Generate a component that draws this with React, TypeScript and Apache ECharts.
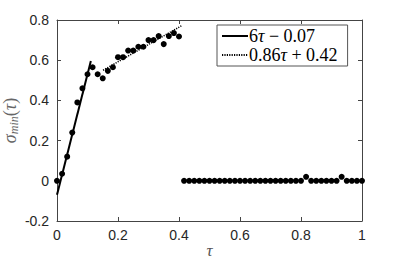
import React, { useEffect, useRef } from "react";
import * as echarts from "echarts";

const tau = [0, 0.0167, 0.0333, 0.05, 0.0667, 0.0833, 0.1, 0.1167, 0.1333, 0.15, 0.1667, 0.1833, 0.2, 0.2167, 0.2333, 0.25, 0.2667, 0.2833, 0.3, 0.3167, 0.3333, 0.35, 0.3667, 0.3833, 0.4, 0.4167, 0.4333, 0.45, 0.4667, 0.4833, 0.5, 0.5167, 0.5333, 0.55, 0.5667, 0.5833, 0.6, 0.6167, 0.6333, 0.65, 0.6667, 0.6833, 0.7, 0.7167, 0.7333, 0.75, 0.7667, 0.7833, 0.8, 0.8167, 0.8333, 0.85, 0.8667, 0.8833, 0.9, 0.9167, 0.9333, 0.95, 0.9667, 0.9833, 1];
const sigmaMin = [0, 0.035, 0.12, 0.24, 0.39, 0.46, 0.53, 0.565, 0.53, 0.51, 0.547, 0.565, 0.615, 0.615, 0.648, 0.648, 0.667, 0.667, 0.7, 0.7, 0.72, 0.68, 0.72, 0.735, 0.718,
  0, 0, 0, 0, 0, 0, 0, 0, 0, 0, 0, 0, 0, 0, 0, 0, 0, 0, 0, 0, 0, 0, 0, 0,
  0.02, 0, 0, 0, 0, 0, 0, 0.02, 0, 0, 0, 0];
const fit1Tau = [0, 0.111];
const fit1Val = [-0.07, 0.596];
const fit2Tau = [0.151, 0.408];
const fit2Val = [0.55, 0.771];
const fit1Name = "6τ − 0.07";
const fit2Name = "0.86τ + 0.42";
const xTicks = [0, 0.2, 0.4, 0.6, 0.8, 1];
const yTicks = [-0.2, 0, 0.2, 0.4, 0.6, 0.8];

const axisColor = "#444";
const labelColor = "#262626";

export default function App() {
  const ref = useRef<HTMLDivElement>(null);
  useEffect(() => {
    const chart = echarts.init(ref.current!, null, { renderer: "svg" });
    const fmt = (v: number) => String(parseFloat(v.toFixed(1)));
    const baseX = {
      type: "value",
      min: xTicks[0],
      max: xTicks[xTicks.length - 1],
      interval: 0.2,
      splitLine: { show: false },
      axisLine: { show: true, onZero: false, lineStyle: { color: axisColor, width: 1 } },
      axisTick: { show: true, inside: true, length: 4, lineStyle: { color: axisColor } },
    };
    const baseY = {
      type: "value",
      min: yTicks[0],
      max: yTicks[yTicks.length - 1],
      interval: 0.2,
      splitLine: { show: false },
      axisLine: { show: true, onZero: false, lineStyle: { color: axisColor, width: 1 } },
      axisTick: { show: true, inside: true, length: 4, lineStyle: { color: axisColor } },
    };
    const serif = "Liberation Serif";
    chart.setOption({
      animation: false,
      backgroundColor: "#fff",
      grid: { left: 57, right: 37, top: 20, bottom: 45, containLabel: false, outerBoundsMode: "none" },
      xAxis: [
        {
          ...baseX,
          position: "bottom",
          name: "τ",
          nameLocation: "middle",
          nameGap: 21,
          nameMoveOverlap: false,
          nameTextStyle: { fontFamily: serif, fontStyle: "italic", fontSize: 17, color: "#555" },
          axisLabel: { formatter: fmt, fontFamily: "Liberation Sans", fontSize: 14, color: labelColor, margin: 7 },
        },
        { ...baseX, position: "top", axisLabel: { show: false } },
      ],
      yAxis: [
        {
          ...baseY,
          position: "left",
          name: "{s|σ}{sub|min}{p|(}{s|τ}{p|)}",
          nameLocation: "middle",
          nameGap: 37,
          nameMoveOverlap: false,
          nameTextStyle: {
            color: "#666",
            rich: {
              s: { fontFamily: serif, fontStyle: "italic", fontSize: 18, color: "#666" },
              p: { fontFamily: serif, fontSize: 18, color: "#666" },
              sub: { fontFamily: serif, fontStyle: "italic", fontSize: 12, color: "#666", padding: [8, 0, 0, 0] },
            },
          },
          axisLabel: { formatter: fmt, fontFamily: "Liberation Sans", fontSize: 14, color: labelColor, margin: 8 },
        },
        { ...baseY, position: "right", axisLabel: { show: false } },
      ],
      legend: {
        data: [fit1Name, fit2Name],
        orient: "vertical",
        left: 217,
        top: 25,
        padding: [2, 10, 2, 4],
        itemGap: 1,
        itemWidth: 26,
        itemHeight: 15,
        borderColor: "#555",
        borderWidth: 1,
        backgroundColor: "#fff",
        itemStyle: { opacity: 0 },
        textStyle: {
          fontFamily: serif,
          fontSize: 18,
          color: "#000",
          padding: [0, 0, 0, -4],
          rich: {
            n: { fontFamily: serif, fontSize: 18, color: "#000" },
            t: { fontFamily: serif, fontStyle: "italic", fontSize: 18, color: "#000" },
          },
        },
        formatter: (name: string) => {
          const m = name.split("τ");
          return `{n|${m[0]}}{t|τ}{n|${m[1]}}`;
        },
        selectedMode: false,
      },
      series: [
        {
          type: "scatter",
          name: "data",
          data: tau.map((t, i) => [t, sigmaMin[i]]),
          symbol: "circle",
          symbolSize: 6,
          itemStyle: { color: "#000", opacity: 1 },
        },
        {
          type: "line",
          name: fit1Name,
          data: fit1Tau.map((t, i) => [t, fit1Val[i]]),
          symbol: "none",
          lineStyle: { color: "#000", width: 2, type: "solid" },
          itemStyle: { color: "#000" },
        },
        {
          type: "line",
          name: fit2Name,
          data: fit2Tau.map((t, i) => [t, fit2Val[i]]),
          symbol: "none",
          lineStyle: { color: "#000", width: 1.5, type: [1.2, 1.2] },
          itemStyle: { color: "#000" },
        },
      ],
    });
    return () => chart.dispose();
  }, []);
  return <div ref={ref} style={{ width: 399, height: 266, position: "absolute", left: 0, top: 0 }} />;
}
